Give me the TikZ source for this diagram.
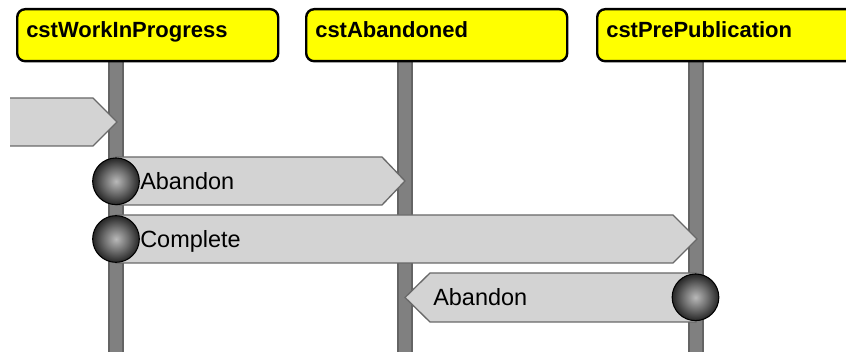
\documentclass[tikz,border=0pt]{standalone}
\usepackage{fontspec}
\setmainfont{Liberation Sans}
\definecolor{hdrfill}{RGB}{255,255,0}
\definecolor{lifefill}{RGB}{128,128,128}
\definecolor{lifedraw}{RGB}{100,100,100}
\definecolor{msgfill}{RGB}{211,211,211}
\definecolor{msgdraw}{RGB}{105,105,105}
\definecolor{sphA}{RGB}{185,185,185}
\definecolor{sphB}{RGB}{110,110,110}
\definecolor{sphC}{RGB}{50,50,50}
\definecolor{sphD}{RGB}{15,15,15}
\pgfdeclareradialshading{sphere}{\pgfpoint{0bp}{0bp}}{color(0bp)=(sphA); color(13bp)=(sphB); color(23bp)=(sphC); color(30bp)=(sphD); color(35bp)=(black); color(50bp)=(black)}
\tikzset{
  hdrbox/.style={draw=black, line width=1.8pt, fill=hdrfill, rounded corners=6pt,
    minimum width=195.75pt, minimum height=39pt, anchor=north west, inner sep=0pt},
  hdrtext/.style={font=\bfseries\fontsize{16.5}{18}\selectfont, inner sep=0pt, anchor=base west},
  lifebar/.style={fill=lifefill, draw=lifedraw, line width=0.8pt},
  msgshape/.style={fill=msgfill, draw=msgdraw, line width=1pt},
  msgtext/.style={font=\fontsize{17.6}{20}\selectfont, inner sep=0pt, anchor=base west},
  ball/.style={circle, minimum size=35pt, inner sep=0pt, shading=sphere, draw=black, line width=0.8pt}
}
\begin{document}
\begin{tikzpicture}[x=0.75pt,y=-0.75pt]
\useasboundingbox (0,0) rectangle (846,352);
\clip (0,0) rectangle (846,352);
% lifelines
\draw[lifebar] (109,58) rectangle (123,360);
\draw[lifebar] (398,58) rectangle (412,360);
\draw[lifebar] (689,58) rectangle (703,360);
% headers
\node[hdrbox] (h1) at (16,8) {};
\node[hdrbox] (h2) at (305,8) {};
\node[hdrbox] (h3) at (596,8) {};
\node[hdrtext] (t1) at ([xshift=7.5pt,yshift=-22.5pt]h1.north west) {cstWorkInProgress};
\node[hdrtext] (t2) at ([xshift=7.5pt,yshift=-22.5pt]h2.north west) {cstAbandoned};
\node[hdrtext] (t3) at ([xshift=7.5pt,yshift=-22.5pt]h3.north west) {cstPrePublication};
% message 0 (incoming from left)
\fill[msgfill] (10,98) -- (93,98) -- (117,122) -- (93,146) -- (10,146) -- cycle;
\draw[msgshape, fill=none] (10,98) -- (93,98) -- (117,122) -- (93,146) -- (10,146);
% message 1
\draw[msgshape] (116,157) -- (382,157) -- (405,181) -- (382,205) -- (116,205) -- cycle;
% message 2
\draw[msgshape] (116,215) -- (673,215) -- (697,239) -- (673,263) -- (116,263) -- cycle;
% message 3
\draw[msgshape] (696,273) -- (430,273) -- (405,297.5) -- (430,322) -- (696,322) -- cycle;
% labels
\node[msgtext] (a1) at (140,189.5) {Abandon};
\node[msgtext] (a2) at (140,247.5) {Complete};
\node[msgtext] (a3) at (433,306) {Abandon};
% balls
\node[ball] (c1) at (116,181.3) {};
\node[ball] (c2) at (116,239) {};
\node[ball] (c3) at (695.5,297.3) {};
\end{tikzpicture}
\end{document}
